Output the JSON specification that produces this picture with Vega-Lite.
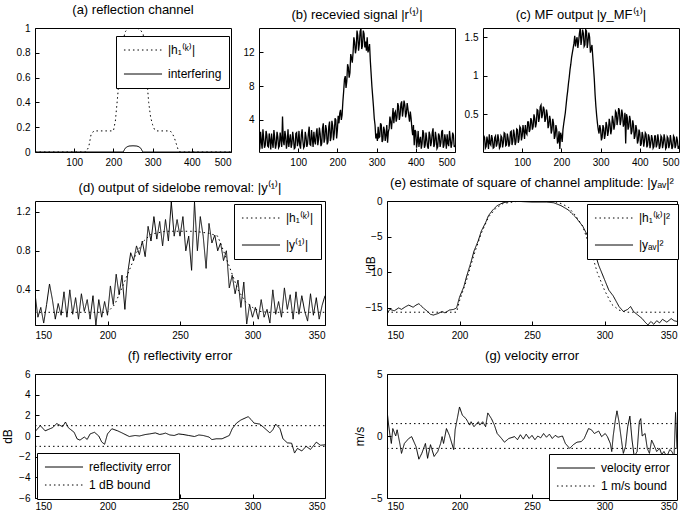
{
"$schema":"https://vega.github.io/schema/vega-lite/v6.json",
"background":"white",
"padding":{"left":1,"top":3,"right":5,"bottom":0},
"spacing":8,
"resolve":{"scale":{"strokeDash":"independent"},"legend":{"strokeDash":"independent"}},
"config":{
 "font":"Liberation Sans",
 "view":{"stroke":"black","strokeWidth":1},
 "axis":{"grid":false,"domain":false,"tickColor":"black","tickSize":-4,"labelPadding":9,"labelFontSize":10,"labelColor":"black","labelFont":"Liberation Sans","titleFont":"Liberation Sans","titleFontSize":12,"titleFontWeight":"normal","titleColor":"black","format":"~f"},
 "title":{"font":"Liberation Sans","fontSize":13,"fontWeight":"normal","color":"black","offset":6},
 "legend":{"orient":"none","strokeColor":"black","fillColor":"white","padding":7,"symbolType":"stroke","symbolSize":1450,"symbolStrokeColor":"black","symbolStrokeWidth":1,"labelFont":"Liberation Sans","labelFontSize":12,"labelColor":"black","clipHeight":14,"labelOffset":5,"cornerRadius":0},
 "line":{"color":"black","strokeWidth":1}
},
"datasets":{
 "a":[
  {"x":0,"y":0,"s":"|h₁⁽ᵏ⁾|"},{"x":130,"y":0,"s":"|h₁⁽ᵏ⁾|"},{"x":137,"y":0.04,"s":"|h₁⁽ᵏ⁾|"},{"x":143,"y":0.14,"s":"|h₁⁽ᵏ⁾|"},{"x":150,"y":0.17,"s":"|h₁⁽ᵏ⁾|"},{"x":200,"y":0.17,"s":"|h₁⁽ᵏ⁾|"},{"x":205,"y":0.25,"s":"|h₁⁽ᵏ⁾|"},{"x":210,"y":0.42,"s":"|h₁⁽ᵏ⁾|"},{"x":215,"y":0.6,"s":"|h₁⁽ᵏ⁾|"},{"x":220,"y":0.78,"s":"|h₁⁽ᵏ⁾|"},{"x":225,"y":0.9,"s":"|h₁⁽ᵏ⁾|"},{"x":230,"y":0.97,"s":"|h₁⁽ᵏ⁾|"},{"x":240,"y":1.0,"s":"|h₁⁽ᵏ⁾|"},{"x":260,"y":1.0,"s":"|h₁⁽ᵏ⁾|"},{"x":270,"y":0.98,"s":"|h₁⁽ᵏ⁾|"},{"x":276,"y":0.95,"s":"|h₁⁽ᵏ⁾|"},{"x":280,"y":0.8,"s":"|h₁⁽ᵏ⁾|"},{"x":285,"y":0.6,"s":"|h₁⁽ᵏ⁾|"},{"x":290,"y":0.4,"s":"|h₁⁽ᵏ⁾|"},{"x":295,"y":0.28,"s":"|h₁⁽ᵏ⁾|"},{"x":300,"y":0.22,"s":"|h₁⁽ᵏ⁾|"},{"x":305,"y":0.18,"s":"|h₁⁽ᵏ⁾|"},{"x":310,"y":0.17,"s":"|h₁⁽ᵏ⁾|"},{"x":345,"y":0.17,"s":"|h₁⁽ᵏ⁾|"},{"x":350,"y":0.15,"s":"|h₁⁽ᵏ⁾|"},{"x":355,"y":0.12,"s":"|h₁⁽ᵏ⁾|"},{"x":360,"y":0.07,"s":"|h₁⁽ᵏ⁾|"},{"x":365,"y":0.02,"s":"|h₁⁽ᵏ⁾|"},{"x":370,"y":0,"s":"|h₁⁽ᵏ⁾|"},{"x":500,"y":0,"s":"|h₁⁽ᵏ⁾|"},
  {"x":0,"y":0,"s":"interfering"},{"x":225,"y":0,"s":"interfering"},{"x":230,"y":0.03,"s":"interfering"},{"x":235,"y":0.042,"s":"interfering"},{"x":240,"y":0.048,"s":"interfering"},{"x":250,"y":0.05,"s":"interfering"},{"x":260,"y":0.048,"s":"interfering"},{"x":265,"y":0.042,"s":"interfering"},{"x":270,"y":0.03,"s":"interfering"},{"x":275,"y":0,"s":"interfering"},{"x":500,"y":0,"s":"interfering"}
 ],
 "b":[
  {"x":0,"y":1.2},{"x":2,"y":0.5},{"x":4,"y":2.6},{"x":6,"y":1.4},{"x":8,"y":0.6},{"x":10,"y":2.9},{"x":12,"y":1.8},{"x":14,"y":0.7},{"x":16,"y":1.0},{"x":18,"y":2.7},{"x":20,"y":2.2},{"x":22,"y":0.9},{"x":24,"y":0.8},{"x":26,"y":2.4},{"x":28,"y":1.6},{"x":30,"y":0.5},{"x":32,"y":2.4},{"x":34,"y":1.3},{"x":36,"y":0.7},{"x":38,"y":2.8},{"x":40,"y":1.9},{"x":42,"y":0.6},{"x":44,"y":1.1},{"x":46,"y":2.6},{"x":48,"y":2.0},{"x":50,"y":0.7},{"x":52,"y":0.9},{"x":54,"y":2.5},{"x":56,"y":1.7},{"x":58,"y":0.8},{"x":60,"y":4.4},{"x":62,"y":1.5},{"x":64,"y":1.0},{"x":66,"y":2.7},{"x":68,"y":2.1},{"x":70,"y":0.6},{"x":72,"y":1.3},{"x":74,"y":2.9},{"x":76,"y":0.8},{"x":78,"y":1.6},{"x":80,"y":2.3},{"x":82,"y":0.7},{"x":84,"y":1.2},{"x":86,"y":2.6},{"x":88,"y":1.8},{"x":90,"y":0.6},{"x":92,"y":0.7},{"x":94,"y":2.4},{"x":96,"y":2.5},{"x":98,"y":0.9},{"x":100,"y":1.4},{"x":102,"y":2.7},{"x":104,"y":1.0},{"x":106,"y":0.6},{"x":108,"y":2.2},{"x":110,"y":2.9},{"x":112,"y":1.5},{"x":114,"y":0.7},{"x":116,"y":0.9},{"x":118,"y":2.6},{"x":120,"y":2.0},{"x":122,"y":0.8},{"x":124,"y":1.2},{"x":126,"y":2.4},{"x":128,"y":3.2},{"x":130,"y":1.1},{"x":132,"y":1.0},{"x":134,"y":2.8},{"x":136,"y":1.8},{"x":138,"y":0.8},{"x":140,"y":2.6},{"x":142,"y":1.5},{"x":144,"y":1.1},{"x":146,"y":2.4},{"x":148,"y":3.0},{"x":150,"y":1.0},{"x":152,"y":1.7},{"x":154,"y":3.1},{"x":156,"y":2.4},{"x":158,"y":0.9},{"x":160,"y":1.2},{"x":162,"y":3.0},{"x":164,"y":3.6},{"x":166,"y":1.3},{"x":168,"y":1.8},{"x":170,"y":3.4},{"x":172,"y":2.9},{"x":174,"y":1.1},{"x":176,"y":1.4},{"x":178,"y":3.2},{"x":180,"y":3.8},{"x":182,"y":1.5},{"x":184,"y":2.0},{"x":186,"y":3.9},{"x":188,"y":3.3},{"x":190,"y":1.6},{"x":192,"y":2.4},{"x":194,"y":4.2},{"x":196,"y":4.0},{"x":198,"y":1.8},{"x":200,"y":2.8},{"x":202,"y":4.5},{"x":204,"y":3.6},{"x":206,"y":4.8},{"x":208,"y":5.2},{"x":210,"y":4.0},{"x":212,"y":4.6},{"x":214,"y":6.2},{"x":216,"y":7.4},{"x":218,"y":8.8},{"x":220,"y":9.2},{"x":222,"y":7.8},{"x":224,"y":8.6},{"x":226,"y":10.6},{"x":228,"y":10.2},{"x":230,"y":9.0},{"x":232,"y":9.6},{"x":234,"y":11.8},{"x":236,"y":11.4},{"x":238,"y":10.8},{"x":240,"y":12.0},{"x":242,"y":13.8},{"x":244,"y":13.2},{"x":246,"y":11.9},{"x":248,"y":12.5},{"x":250,"y":14.6},{"x":252,"y":14.0},{"x":254,"y":12.2},{"x":256,"y":13.0},{"x":258,"y":14.5},{"x":260,"y":14.8},{"x":262,"y":12.4},{"x":264,"y":12.8},{"x":266,"y":14.6},{"x":268,"y":14.2},{"x":270,"y":12.6},{"x":272,"y":13.3},{"x":274,"y":12.2},{"x":276,"y":13.8},{"x":278,"y":12.0},{"x":280,"y":12.4},{"x":282,"y":13.0},{"x":284,"y":11.0},{"x":286,"y":9.5},{"x":288,"y":8.0},{"x":290,"y":6.8},{"x":292,"y":5.6},{"x":294,"y":4.2},{"x":296,"y":3.4},{"x":298,"y":1.8},{"x":300,"y":2.4},{"x":302,"y":1.5},{"x":304,"y":3.2},{"x":306,"y":1.9},{"x":308,"y":2.0},{"x":310,"y":3.6},{"x":312,"y":3.4},{"x":314,"y":1.4},{"x":316,"y":1.6},{"x":318,"y":3.2},{"x":320,"y":2.8},{"x":322,"y":1.5},{"x":324,"y":2.2},{"x":326,"y":3.4},{"x":328,"y":1.3},{"x":330,"y":2.6},{"x":332,"y":3.0},{"x":334,"y":4.4},{"x":336,"y":3.8},{"x":338,"y":2.9},{"x":340,"y":4.2},{"x":342,"y":5.4},{"x":344,"y":3.6},{"x":346,"y":4.8},{"x":348,"y":5.0},{"x":350,"y":3.8},{"x":352,"y":4.3},{"x":354,"y":6.0},{"x":356,"y":5.6},{"x":358,"y":4.0},{"x":360,"y":4.6},{"x":362,"y":5.9},{"x":364,"y":6.2},{"x":366,"y":4.4},{"x":368,"y":5.2},{"x":370,"y":6.3},{"x":372,"y":5.8},{"x":374,"y":4.3},{"x":376,"y":4.8},{"x":378,"y":6.0},{"x":380,"y":5.3},{"x":382,"y":4.5},{"x":384,"y":3.8},{"x":386,"y":5.0},{"x":388,"y":4.2},{"x":390,"y":3.0},{"x":392,"y":2.2},{"x":394,"y":3.4},{"x":396,"y":1.0},{"x":398,"y":2.8},{"x":400,"y":2.6},{"x":402,"y":0.7},{"x":404,"y":1.4},{"x":406,"y":2.7},{"x":408,"y":0.8},{"x":410,"y":1.6},{"x":412,"y":2.0},{"x":414,"y":0.6},{"x":416,"y":1.2},{"x":418,"y":2.8},{"x":420,"y":2.4},{"x":422,"y":0.7},{"x":424,"y":1.0},{"x":426,"y":2.5},{"x":428,"y":1.7},{"x":430,"y":0.8},{"x":432,"y":0.6},{"x":434,"y":2.6},{"x":436,"y":2.2},{"x":438,"y":0.9},{"x":440,"y":1.4},{"x":442,"y":2.5},{"x":444,"y":3.0},{"x":446,"y":0.8},{"x":448,"y":1.1},{"x":450,"y":2.6},{"x":452,"y":1.9},{"x":454,"y":0.6},{"x":456,"y":0.8},{"x":458,"y":2.4},{"x":460,"y":2.1},{"x":462,"y":0.8},{"x":464,"y":1.3},{"x":466,"y":2.6},{"x":468,"y":2.8},{"x":470,"y":0.7},{"x":472,"y":1.0},{"x":474,"y":2.3},{"x":476,"y":1.6},{"x":478,"y":0.6},{"x":480,"y":2.3},{"x":482,"y":1.2},{"x":484,"y":0.9},{"x":486,"y":2.7},{"x":488,"y":1.8},{"x":490,"y":0.7},{"x":492,"y":1.2},{"x":494,"y":2.5},{"x":496,"y":2.2},{"x":498,"y":0.8},{"x":500,"y":1.0}
 ],
 "c":[
  {"x":0,"y":0.10},{"x":2,"y":0.22},{"x":4,"y":0.20},{"x":6,"y":0.06},{"x":8,"y":0.08},{"x":10,"y":0.21},{"x":12,"y":0.15},{"x":14,"y":0.05},{"x":16,"y":0.24},{"x":18,"y":0.12},{"x":20,"y":0.10},{"x":22,"y":0.23},{"x":24,"y":0.18},{"x":26,"y":0.06},{"x":28,"y":0.07},{"x":30,"y":0.20},{"x":32,"y":0.22},{"x":34,"y":0.08},{"x":36,"y":0.12},{"x":38,"y":0.24},{"x":40,"y":0.17},{"x":42,"y":0.06},{"x":44,"y":0.08},{"x":46,"y":0.22},{"x":48,"y":0.20},{"x":50,"y":0.07},{"x":52,"y":0.13},{"x":54,"y":0.26},{"x":56,"y":0.25},{"x":58,"y":0.09},{"x":60,"y":0.10},{"x":62,"y":0.25},{"x":64,"y":0.19},{"x":66,"y":0.08},{"x":68,"y":0.12},{"x":70,"y":0.27},{"x":72,"y":0.28},{"x":74,"y":0.10},{"x":76,"y":0.15},{"x":78,"y":0.30},{"x":80,"y":0.24},{"x":82,"y":0.10},{"x":84,"y":0.14},{"x":86,"y":0.31},{"x":88,"y":0.30},{"x":90,"y":0.13},{"x":92,"y":0.18},{"x":94,"y":0.34},{"x":96,"y":0.32},{"x":98,"y":0.16},{"x":100,"y":0.22},{"x":102,"y":0.36},{"x":104,"y":0.28},{"x":106,"y":0.18},{"x":108,"y":0.36},{"x":110,"y":0.26},{"x":112,"y":0.24},{"x":114,"y":0.40},{"x":116,"y":0.40},{"x":118,"y":0.27},{"x":120,"y":0.30},{"x":122,"y":0.45},{"x":124,"y":0.42},{"x":126,"y":0.30},{"x":128,"y":0.34},{"x":130,"y":0.50},{"x":132,"y":0.45},{"x":134,"y":0.33},{"x":136,"y":0.38},{"x":138,"y":0.56},{"x":140,"y":0.55},{"x":142,"y":0.40},{"x":144,"y":0.46},{"x":146,"y":0.60},{"x":148,"y":0.62},{"x":150,"y":0.45},{"x":152,"y":0.50},{"x":154,"y":0.60},{"x":156,"y":0.56},{"x":158,"y":0.40},{"x":160,"y":0.44},{"x":162,"y":0.56},{"x":164,"y":0.50},{"x":166,"y":0.32},{"x":168,"y":0.36},{"x":170,"y":0.48},{"x":172,"y":0.42},{"x":174,"y":0.25},{"x":176,"y":0.30},{"x":178,"y":0.44},{"x":180,"y":0.38},{"x":182,"y":0.18},{"x":184,"y":0.22},{"x":186,"y":0.36},{"x":188,"y":0.30},{"x":190,"y":0.12},{"x":192,"y":0.15},{"x":194,"y":0.28},{"x":196,"y":0.05},{"x":198,"y":0.26},{"x":200,"y":0.22},{"x":202,"y":0.14},{"x":204,"y":0.30},{"x":206,"y":0.38},{"x":208,"y":0.45},{"x":210,"y":0.52},{"x":212,"y":0.62},{"x":214,"y":0.72},{"x":216,"y":0.80},{"x":218,"y":0.90},{"x":220,"y":0.98},{"x":222,"y":1.08},{"x":224,"y":1.15},{"x":226,"y":1.24},{"x":228,"y":1.30},{"x":230,"y":1.36},{"x":232,"y":1.42},{"x":234,"y":1.52},{"x":236,"y":1.38},{"x":238,"y":1.46},{"x":240,"y":1.50},{"x":242,"y":1.36},{"x":244,"y":1.45},{"x":246,"y":1.55},{"x":248,"y":1.62},{"x":250,"y":1.40},{"x":252,"y":1.48},{"x":254,"y":1.60},{"x":256,"y":1.55},{"x":258,"y":1.38},{"x":260,"y":1.40},{"x":262,"y":1.60},{"x":264,"y":1.58},{"x":266,"y":1.36},{"x":268,"y":1.45},{"x":270,"y":1.56},{"x":272,"y":1.50},{"x":274,"y":1.30},{"x":276,"y":1.35},{"x":278,"y":1.40},{"x":280,"y":1.25},{"x":282,"y":1.10},{"x":284,"y":0.95},{"x":286,"y":0.75},{"x":288,"y":0.60},{"x":290,"y":0.48},{"x":292,"y":0.38},{"x":294,"y":0.30},{"x":296,"y":0.25},{"x":298,"y":0.36},{"x":300,"y":0.30},{"x":302,"y":0.16},{"x":304,"y":0.20},{"x":306,"y":0.36},{"x":308,"y":0.32},{"x":310,"y":0.18},{"x":312,"y":0.24},{"x":314,"y":0.40},{"x":316,"y":0.35},{"x":318,"y":0.22},{"x":320,"y":0.28},{"x":322,"y":0.44},{"x":324,"y":0.38},{"x":326,"y":0.24},{"x":328,"y":0.30},{"x":330,"y":0.48},{"x":332,"y":0.42},{"x":334,"y":0.30},{"x":336,"y":0.36},{"x":338,"y":0.54},{"x":340,"y":0.52},{"x":342,"y":0.36},{"x":344,"y":0.44},{"x":346,"y":0.58},{"x":348,"y":0.55},{"x":350,"y":0.36},{"x":352,"y":0.42},{"x":354,"y":0.56},{"x":356,"y":0.50},{"x":358,"y":0.34},{"x":360,"y":0.38},{"x":362,"y":0.52},{"x":364,"y":0.12},{"x":366,"y":0.50},{"x":368,"y":0.46},{"x":370,"y":0.30},{"x":372,"y":0.34},{"x":374,"y":0.48},{"x":376,"y":0.42},{"x":378,"y":0.24},{"x":380,"y":0.28},{"x":382,"y":0.42},{"x":384,"y":0.36},{"x":386,"y":0.18},{"x":388,"y":0.22},{"x":390,"y":0.36},{"x":392,"y":0.30},{"x":394,"y":0.12},{"x":396,"y":0.16},{"x":398,"y":0.30},{"x":400,"y":0.26},{"x":402,"y":0.09},{"x":404,"y":0.12},{"x":406,"y":0.27},{"x":408,"y":0.22},{"x":410,"y":0.08},{"x":412,"y":0.15},{"x":414,"y":0.26},{"x":416,"y":0.24},{"x":418,"y":0.07},{"x":420,"y":0.10},{"x":422,"y":0.24},{"x":424,"y":0.20},{"x":426,"y":0.06},{"x":428,"y":0.12},{"x":430,"y":0.23},{"x":432,"y":0.18},{"x":434,"y":0.06},{"x":436,"y":0.08},{"x":438,"y":0.22},{"x":440,"y":0.22},{"x":442,"y":0.07},{"x":444,"y":0.11},{"x":446,"y":0.24},{"x":448,"y":0.16},{"x":450,"y":0.05},{"x":452,"y":0.09},{"x":454,"y":0.22},{"x":456,"y":0.20},{"x":458,"y":0.06},{"x":460,"y":0.12},{"x":462,"y":0.24},{"x":464,"y":0.17},{"x":466,"y":0.05},{"x":468,"y":0.07},{"x":470,"y":0.21},{"x":472,"y":0.19},{"x":474,"y":0.06},{"x":476,"y":0.11},{"x":478,"y":0.23},{"x":480,"y":0.15},{"x":482,"y":0.05},{"x":484,"y":0.08},{"x":486,"y":0.22},{"x":488,"y":0.20},{"x":490,"y":0.06},{"x":492,"y":0.10},{"x":494,"y":0.21},{"x":496,"y":0.16},{"x":498,"y":0.05},{"x":500,"y":0.09}
 ],
 "d":[
  {"x":150,"y":0.17,"s":"|h₁⁽ᵏ⁾|"},{"x":200,"y":0.17,"s":"|h₁⁽ᵏ⁾|"},{"x":205,"y":0.25,"s":"|h₁⁽ᵏ⁾|"},{"x":210,"y":0.42,"s":"|h₁⁽ᵏ⁾|"},{"x":215,"y":0.6,"s":"|h₁⁽ᵏ⁾|"},{"x":220,"y":0.78,"s":"|h₁⁽ᵏ⁾|"},{"x":225,"y":0.9,"s":"|h₁⁽ᵏ⁾|"},{"x":230,"y":0.97,"s":"|h₁⁽ᵏ⁾|"},{"x":240,"y":1.0,"s":"|h₁⁽ᵏ⁾|"},{"x":260,"y":1.0,"s":"|h₁⁽ᵏ⁾|"},{"x":270,"y":0.98,"s":"|h₁⁽ᵏ⁾|"},{"x":276,"y":0.95,"s":"|h₁⁽ᵏ⁾|"},{"x":280,"y":0.8,"s":"|h₁⁽ᵏ⁾|"},{"x":285,"y":0.6,"s":"|h₁⁽ᵏ⁾|"},{"x":290,"y":0.4,"s":"|h₁⁽ᵏ⁾|"},{"x":295,"y":0.28,"s":"|h₁⁽ᵏ⁾|"},{"x":300,"y":0.22,"s":"|h₁⁽ᵏ⁾|"},{"x":305,"y":0.18,"s":"|h₁⁽ᵏ⁾|"},{"x":310,"y":0.17,"s":"|h₁⁽ᵏ⁾|"},{"x":350,"y":0.17,"s":"|h₁⁽ᵏ⁾|"},
  {"x":150,"y":0.36,"s":"|y⁽¹⁾|"},{"x":152,"y":0.12,"s":"|y⁽¹⁾|"},{"x":154,"y":0.22,"s":"|y⁽¹⁾|"},{"x":156,"y":0.06,"s":"|y⁽¹⁾|"},{"x":158,"y":0.25,"s":"|y⁽¹⁾|"},{"x":160,"y":0.46,"s":"|y⁽¹⁾|"},{"x":162,"y":0.30,"s":"|y⁽¹⁾|"},{"x":164,"y":0.10,"s":"|y⁽¹⁾|"},{"x":166,"y":0.26,"s":"|y⁽¹⁾|"},{"x":168,"y":0.14,"s":"|y⁽¹⁾|"},{"x":170,"y":0.38,"s":"|y⁽¹⁾|"},{"x":172,"y":0.12,"s":"|y⁽¹⁾|"},{"x":174,"y":0.40,"s":"|y⁽¹⁾|"},{"x":176,"y":0.15,"s":"|y⁽¹⁾|"},{"x":178,"y":0.32,"s":"|y⁽¹⁾|"},{"x":180,"y":0.10,"s":"|y⁽¹⁾|"},{"x":182,"y":0.36,"s":"|y⁽¹⁾|"},{"x":184,"y":0.18,"s":"|y⁽¹⁾|"},{"x":186,"y":0.30,"s":"|y⁽¹⁾|"},{"x":188,"y":0.10,"s":"|y⁽¹⁾|"},{"x":190,"y":0.34,"s":"|y⁽¹⁾|"},{"x":192,"y":0.04,"s":"|y⁽¹⁾|"},{"x":194,"y":0.30,"s":"|y⁽¹⁾|"},{"x":196,"y":0.12,"s":"|y⁽¹⁾|"},{"x":198,"y":0.28,"s":"|y⁽¹⁾|"},{"x":200,"y":0.14,"s":"|y⁽¹⁾|"},{"x":202,"y":0.44,"s":"|y⁽¹⁾|"},{"x":204,"y":0.25,"s":"|y⁽¹⁾|"},{"x":206,"y":0.56,"s":"|y⁽¹⁾|"},{"x":208,"y":0.35,"s":"|y⁽¹⁾|"},{"x":210,"y":0.55,"s":"|y⁽¹⁾|"},{"x":212,"y":0.20,"s":"|y⁽¹⁾|"},{"x":214,"y":0.58,"s":"|y⁽¹⁾|"},{"x":216,"y":0.78,"s":"|y⁽¹⁾|"},{"x":218,"y":0.70,"s":"|y⁽¹⁾|"},{"x":220,"y":0.85,"s":"|y⁽¹⁾|"},{"x":222,"y":0.76,"s":"|y⁽¹⁾|"},{"x":224,"y":0.90,"s":"|y⁽¹⁾|"},{"x":226,"y":0.74,"s":"|y⁽¹⁾|"},{"x":228,"y":1.05,"s":"|y⁽¹⁾|"},{"x":230,"y":0.90,"s":"|y⁽¹⁾|"},{"x":232,"y":1.15,"s":"|y⁽¹⁾|"},{"x":234,"y":0.92,"s":"|y⁽¹⁾|"},{"x":236,"y":1.10,"s":"|y⁽¹⁾|"},{"x":238,"y":0.85,"s":"|y⁽¹⁾|"},{"x":240,"y":1.12,"s":"|y⁽¹⁾|"},{"x":242,"y":0.90,"s":"|y⁽¹⁾|"},{"x":244,"y":1.30,"s":"|y⁽¹⁾|"},{"x":246,"y":0.95,"s":"|y⁽¹⁾|"},{"x":248,"y":1.12,"s":"|y⁽¹⁾|"},{"x":250,"y":0.95,"s":"|y⁽¹⁾|"},{"x":252,"y":1.15,"s":"|y⁽¹⁾|"},{"x":254,"y":0.80,"s":"|y⁽¹⁾|"},{"x":256,"y":0.95,"s":"|y⁽¹⁾|"},{"x":258,"y":0.60,"s":"|y⁽¹⁾|"},{"x":260,"y":1.30,"s":"|y⁽¹⁾|"},{"x":262,"y":0.80,"s":"|y⁽¹⁾|"},{"x":264,"y":1.15,"s":"|y⁽¹⁾|"},{"x":266,"y":0.95,"s":"|y⁽¹⁾|"},{"x":268,"y":0.62,"s":"|y⁽¹⁾|"},{"x":270,"y":1.08,"s":"|y⁽¹⁾|"},{"x":272,"y":0.88,"s":"|y⁽¹⁾|"},{"x":274,"y":0.96,"s":"|y⁽¹⁾|"},{"x":276,"y":0.80,"s":"|y⁽¹⁾|"},{"x":278,"y":0.88,"s":"|y⁽¹⁾|"},{"x":280,"y":0.70,"s":"|y⁽¹⁾|"},{"x":282,"y":0.80,"s":"|y⁽¹⁾|"},{"x":284,"y":0.42,"s":"|y⁽¹⁾|"},{"x":286,"y":0.55,"s":"|y⁽¹⁾|"},{"x":288,"y":0.36,"s":"|y⁽¹⁾|"},{"x":290,"y":0.50,"s":"|y⁽¹⁾|"},{"x":292,"y":0.22,"s":"|y⁽¹⁾|"},{"x":294,"y":0.48,"s":"|y⁽¹⁾|"},{"x":296,"y":0.05,"s":"|y⁽¹⁾|"},{"x":298,"y":0.25,"s":"|y⁽¹⁾|"},{"x":300,"y":0.12,"s":"|y⁽¹⁾|"},{"x":302,"y":0.22,"s":"|y⁽¹⁾|"},{"x":304,"y":0.10,"s":"|y⁽¹⁾|"},{"x":306,"y":0.30,"s":"|y⁽¹⁾|"},{"x":308,"y":0.12,"s":"|y⁽¹⁾|"},{"x":310,"y":0.20,"s":"|y⁽¹⁾|"},{"x":312,"y":0.06,"s":"|y⁽¹⁾|"},{"x":314,"y":0.40,"s":"|y⁽¹⁾|"},{"x":316,"y":0.15,"s":"|y⁽¹⁾|"},{"x":318,"y":0.28,"s":"|y⁽¹⁾|"},{"x":320,"y":0.12,"s":"|y⁽¹⁾|"},{"x":322,"y":0.42,"s":"|y⁽¹⁾|"},{"x":324,"y":0.20,"s":"|y⁽¹⁾|"},{"x":326,"y":0.35,"s":"|y⁽¹⁾|"},{"x":328,"y":0.10,"s":"|y⁽¹⁾|"},{"x":330,"y":0.38,"s":"|y⁽¹⁾|"},{"x":332,"y":0.15,"s":"|y⁽¹⁾|"},{"x":334,"y":0.34,"s":"|y⁽¹⁾|"},{"x":336,"y":0.18,"s":"|y⁽¹⁾|"},{"x":338,"y":0.08,"s":"|y⁽¹⁾|"},{"x":340,"y":0.36,"s":"|y⁽¹⁾|"},{"x":342,"y":0.14,"s":"|y⁽¹⁾|"},{"x":344,"y":0.32,"s":"|y⁽¹⁾|"},{"x":346,"y":0.10,"s":"|y⁽¹⁾|"},{"x":348,"y":0.24,"s":"|y⁽¹⁾|"},{"x":350,"y":0.34,"s":"|y⁽¹⁾|"}
 ],
 "e":[
  {"x":150,"y":-15.6,"s":"|h₁⁽ᵏ⁾|²"},{"x":198,"y":-15.6,"s":"|h₁⁽ᵏ⁾|²"},{"x":200,"y":-14,"s":"|h₁⁽ᵏ⁾|²"},{"x":205,"y":-11,"s":"|h₁⁽ᵏ⁾|²"},{"x":210,"y":-7.5,"s":"|h₁⁽ᵏ⁾|²"},{"x":215,"y":-4.5,"s":"|h₁⁽ᵏ⁾|²"},{"x":220,"y":-2.2,"s":"|h₁⁽ᵏ⁾|²"},{"x":225,"y":-1.0,"s":"|h₁⁽ᵏ⁾|²"},{"x":230,"y":-0.3,"s":"|h₁⁽ᵏ⁾|²"},{"x":240,"y":0,"s":"|h₁⁽ᵏ⁾|²"},{"x":265,"y":0,"s":"|h₁⁽ᵏ⁾|²"},{"x":270,"y":-0.3,"s":"|h₁⁽ᵏ⁾|²"},{"x":275,"y":-0.8,"s":"|h₁⁽ᵏ⁾|²"},{"x":280,"y":-2,"s":"|h₁⁽ᵏ⁾|²"},{"x":285,"y":-3.5,"s":"|h₁⁽ᵏ⁾|²"},{"x":290,"y":-6.5,"s":"|h₁⁽ᵏ⁾|²"},{"x":295,"y":-10,"s":"|h₁⁽ᵏ⁾|²"},{"x":300,"y":-12.5,"s":"|h₁⁽ᵏ⁾|²"},{"x":305,"y":-14.5,"s":"|h₁⁽ᵏ⁾|²"},{"x":310,"y":-15.3,"s":"|h₁⁽ᵏ⁾|²"},{"x":315,"y":-15.6,"s":"|h₁⁽ᵏ⁾|²"},{"x":350,"y":-15.6,"s":"|h₁⁽ᵏ⁾|²"},
  {"x":150,"y":-15.8,"s":"|yₐᵥ|²"},{"x":152,"y":-15.2,"s":"|yₐᵥ|²"},{"x":155,"y":-15.4,"s":"|yₐᵥ|²"},{"x":158,"y":-15.0,"s":"|yₐᵥ|²"},{"x":160,"y":-15.2,"s":"|yₐᵥ|²"},{"x":163,"y":-14.8,"s":"|yₐᵥ|²"},{"x":165,"y":-14.6,"s":"|yₐᵥ|²"},{"x":168,"y":-14.9,"s":"|yₐᵥ|²"},{"x":170,"y":-14.6,"s":"|yₐᵥ|²"},{"x":172,"y":-14.4,"s":"|yₐᵥ|²"},{"x":175,"y":-15.0,"s":"|yₐᵥ|²"},{"x":178,"y":-15.5,"s":"|yₐᵥ|²"},{"x":180,"y":-15.9,"s":"|yₐᵥ|²"},{"x":182,"y":-16.0,"s":"|yₐᵥ|²"},{"x":185,"y":-15.8,"s":"|yₐᵥ|²"},{"x":188,"y":-15.5,"s":"|yₐᵥ|²"},{"x":190,"y":-15.7,"s":"|yₐᵥ|²"},{"x":193,"y":-15.3,"s":"|yₐᵥ|²"},{"x":196,"y":-15.2,"s":"|yₐᵥ|²"},{"x":198,"y":-15.0,"s":"|yₐᵥ|²"},{"x":200,"y":-13.5,"s":"|yₐᵥ|²"},{"x":203,"y":-12,"s":"|yₐᵥ|²"},{"x":205,"y":-10.5,"s":"|yₐᵥ|²"},{"x":208,"y":-8.5,"s":"|yₐᵥ|²"},{"x":210,"y":-7,"s":"|yₐᵥ|²"},{"x":213,"y":-5.5,"s":"|yₐᵥ|²"},{"x":215,"y":-4.2,"s":"|yₐᵥ|²"},{"x":218,"y":-3,"s":"|yₐᵥ|²"},{"x":220,"y":-2,"s":"|yₐᵥ|²"},{"x":223,"y":-1.2,"s":"|yₐᵥ|²"},{"x":226,"y":-0.6,"s":"|yₐᵥ|²"},{"x":230,"y":-0.2,"s":"|yₐᵥ|²"},{"x":235,"y":0,"s":"|yₐᵥ|²"},{"x":240,"y":0,"s":"|yₐᵥ|²"},{"x":250,"y":-0.1,"s":"|yₐᵥ|²"},{"x":260,"y":-0.1,"s":"|yₐᵥ|²"},{"x":265,"y":-0.2,"s":"|yₐᵥ|²"},{"x":270,"y":-0.6,"s":"|yₐᵥ|²"},{"x":275,"y":-1.2,"s":"|yₐᵥ|²"},{"x":280,"y":-2.2,"s":"|yₐᵥ|²"},{"x":285,"y":-3.5,"s":"|yₐᵥ|²"},{"x":290,"y":-5.5,"s":"|yₐᵥ|²"},{"x":293,"y":-7,"s":"|yₐᵥ|²"},{"x":296,"y":-9,"s":"|yₐᵥ|²"},{"x":300,"y":-11,"s":"|yₐᵥ|²"},{"x":303,"y":-12.5,"s":"|yₐᵥ|²"},{"x":306,"y":-13.3,"s":"|yₐᵥ|²"},{"x":310,"y":-14.8,"s":"|yₐᵥ|²"},{"x":313,"y":-15.5,"s":"|yₐᵥ|²"},{"x":316,"y":-15.2,"s":"|yₐᵥ|²"},{"x":318,"y":-14.8,"s":"|yₐᵥ|²"},{"x":320,"y":-15.5,"s":"|yₐᵥ|²"},{"x":323,"y":-16,"s":"|yₐᵥ|²"},{"x":326,"y":-16.5,"s":"|yₐᵥ|²"},{"x":328,"y":-17.0,"s":"|yₐᵥ|²"},{"x":330,"y":-17.4,"s":"|yₐᵥ|²"},{"x":332,"y":-16.9,"s":"|yₐᵥ|²"},{"x":334,"y":-17.3,"s":"|yₐᵥ|²"},{"x":336,"y":-16.8,"s":"|yₐᵥ|²"},{"x":338,"y":-17.1,"s":"|yₐᵥ|²"},{"x":340,"y":-16.6,"s":"|yₐᵥ|²"},{"x":343,"y":-17.0,"s":"|yₐᵥ|²"},{"x":346,"y":-16.5,"s":"|yₐᵥ|²"},{"x":348,"y":-16.8,"s":"|yₐᵥ|²"},{"x":350,"y":-16.9,"s":"|yₐᵥ|²"}
 ],
 "f":[
  {"x":150,"y":1,"s":"1 dB bound","g":"u"},{"x":350,"y":1,"s":"1 dB bound","g":"u"},{"x":150,"y":-1,"s":"1 dB bound","g":"l"},{"x":350,"y":-1,"s":"1 dB bound","g":"l"},
  {"x":150,"y":0.42,"s":"reflectivity error"},{"x":153.7,"y":1.0,"s":"reflectivity error"},{"x":157,"y":0.5,"s":"reflectivity error"},{"x":162,"y":0.8,"s":"reflectivity error"},{"x":165,"y":1.2,"s":"reflectivity error"},{"x":169,"y":0.9,"s":"reflectivity error"},{"x":171,"y":1.35,"s":"reflectivity error"},{"x":173,"y":0.8,"s":"reflectivity error"},{"x":177,"y":0.36,"s":"reflectivity error"},{"x":179,"y":-0.27,"s":"reflectivity error"},{"x":181,"y":-0.4,"s":"reflectivity error"},{"x":184,"y":-0.1,"s":"reflectivity error"},{"x":186,"y":-0.33,"s":"reflectivity error"},{"x":188,"y":0.2,"s":"reflectivity error"},{"x":191,"y":0.36,"s":"reflectivity error"},{"x":194,"y":0,"s":"reflectivity error"},{"x":196,"y":-0.58,"s":"reflectivity error"},{"x":198,"y":-0.8,"s":"reflectivity error"},{"x":200,"y":0.2,"s":"reflectivity error"},{"x":203,"y":0.7,"s":"reflectivity error"},{"x":207,"y":0.5,"s":"reflectivity error"},{"x":210,"y":0.3,"s":"reflectivity error"},{"x":215,"y":-0.05,"s":"reflectivity error"},{"x":219,"y":0.05,"s":"reflectivity error"},{"x":222,"y":0.0,"s":"reflectivity error"},{"x":226,"y":0.14,"s":"reflectivity error"},{"x":229,"y":0.2,"s":"reflectivity error"},{"x":233,"y":0.3,"s":"reflectivity error"},{"x":236,"y":0.15,"s":"reflectivity error"},{"x":238,"y":0.2,"s":"reflectivity error"},{"x":240,"y":0.28,"s":"reflectivity error"},{"x":243,"y":0.1,"s":"reflectivity error"},{"x":246,"y":0.05,"s":"reflectivity error"},{"x":249,"y":0.2,"s":"reflectivity error"},{"x":252,"y":0.15,"s":"reflectivity error"},{"x":256,"y":0.05,"s":"reflectivity error"},{"x":260,"y":-0.05,"s":"reflectivity error"},{"x":263,"y":0.1,"s":"reflectivity error"},{"x":266,"y":0.05,"s":"reflectivity error"},{"x":270,"y":-0.1,"s":"reflectivity error"},{"x":272,"y":-0.35,"s":"reflectivity error"},{"x":275,"y":-0.27,"s":"reflectivity error"},{"x":279,"y":-0.27,"s":"reflectivity error"},{"x":284,"y":0.05,"s":"reflectivity error"},{"x":286,"y":0.7,"s":"reflectivity error"},{"x":289,"y":1.25,"s":"reflectivity error"},{"x":292,"y":1.55,"s":"reflectivity error"},{"x":297,"y":1.87,"s":"reflectivity error"},{"x":299,"y":1.6,"s":"reflectivity error"},{"x":301,"y":1.25,"s":"reflectivity error"},{"x":305,"y":1.15,"s":"reflectivity error"},{"x":308,"y":0.8,"s":"reflectivity error"},{"x":312,"y":0.3,"s":"reflectivity error"},{"x":314,"y":0.6,"s":"reflectivity error"},{"x":316,"y":1.15,"s":"reflectivity error"},{"x":319,"y":0.7,"s":"reflectivity error"},{"x":321,"y":-0.27,"s":"reflectivity error"},{"x":324,"y":-0.66,"s":"reflectivity error"},{"x":327,"y":-0.7,"s":"reflectivity error"},{"x":329,"y":-1.65,"s":"reflectivity error"},{"x":331,"y":-1.2,"s":"reflectivity error"},{"x":334,"y":-1.45,"s":"reflectivity error"},{"x":337,"y":-1.0,"s":"reflectivity error"},{"x":340,"y":-1.3,"s":"reflectivity error"},{"x":344,"y":-0.6,"s":"reflectivity error"},{"x":347,"y":-0.9,"s":"reflectivity error"},{"x":350,"y":-0.85,"s":"reflectivity error"}
 ],
 "g":[
  {"x":150,"y":1,"s":"1 m/s bound","g":"u"},{"x":350,"y":1,"s":"1 m/s bound","g":"u"},{"x":150,"y":-1,"s":"1 m/s bound","g":"l"},{"x":350,"y":-1,"s":"1 m/s bound","g":"l"},
  {"x":150,"y":2.1,"s":"velocity error"},{"x":151,"y":1.0,"s":"velocity error"},{"x":152,"y":0.1,"s":"velocity error"},{"x":153,"y":-0.6,"s":"velocity error"},{"x":154,"y":0.6,"s":"velocity error"},{"x":156,"y":0,"s":"velocity error"},{"x":157,"y":0.5,"s":"velocity error"},{"x":159,"y":-0.7,"s":"velocity error"},{"x":160,"y":-1.4,"s":"velocity error"},{"x":162,"y":-0.6,"s":"velocity error"},{"x":165,"y":-0.2,"s":"velocity error"},{"x":167,"y":-0.05,"s":"velocity error"},{"x":170,"y":-0.85,"s":"velocity error"},{"x":172,"y":-1.87,"s":"velocity error"},{"x":174,"y":-1.4,"s":"velocity error"},{"x":176.5,"y":-0.6,"s":"velocity error"},{"x":178,"y":-1.8,"s":"velocity error"},{"x":180,"y":-0.7,"s":"velocity error"},{"x":182.5,"y":-1.65,"s":"velocity error"},{"x":185,"y":-1.25,"s":"velocity error"},{"x":187,"y":-0.6,"s":"velocity error"},{"x":188,"y":-0.05,"s":"velocity error"},{"x":189,"y":-0.6,"s":"velocity error"},{"x":191,"y":0.6,"s":"velocity error"},{"x":193,"y":0.07,"s":"velocity error"},{"x":196,"y":-1.1,"s":"velocity error"},{"x":197,"y":0.5,"s":"velocity error"},{"x":200,"y":2.34,"s":"velocity error"},{"x":202,"y":1.67,"s":"velocity error"},{"x":204.5,"y":1.4,"s":"velocity error"},{"x":207,"y":0.88,"s":"velocity error"},{"x":208,"y":1.15,"s":"velocity error"},{"x":210,"y":0.75,"s":"velocity error"},{"x":213,"y":1.15,"s":"velocity error"},{"x":214,"y":0.88,"s":"velocity error"},{"x":216,"y":1.15,"s":"velocity error"},{"x":218,"y":0.75,"s":"velocity error"},{"x":219.5,"y":1.86,"s":"velocity error"},{"x":222,"y":1.4,"s":"velocity error"},{"x":224,"y":0.9,"s":"velocity error"},{"x":226,"y":0.2,"s":"velocity error"},{"x":229,"y":-0.2,"s":"velocity error"},{"x":231,"y":-0.5,"s":"velocity error"},{"x":234,"y":-0.2,"s":"velocity error"},{"x":238,"y":-0.05,"s":"velocity error"},{"x":240,"y":-0.3,"s":"velocity error"},{"x":242,"y":0.1,"s":"velocity error"},{"x":244,"y":-0.25,"s":"velocity error"},{"x":246,"y":0.15,"s":"velocity error"},{"x":248,"y":-0.2,"s":"velocity error"},{"x":250,"y":0.05,"s":"velocity error"},{"x":252,"y":-0.3,"s":"velocity error"},{"x":254,"y":0.0,"s":"velocity error"},{"x":256,"y":-0.15,"s":"velocity error"},{"x":258,"y":0.2,"s":"velocity error"},{"x":260,"y":-0.1,"s":"velocity error"},{"x":262,"y":0.15,"s":"velocity error"},{"x":264,"y":-0.2,"s":"velocity error"},{"x":266,"y":0.05,"s":"velocity error"},{"x":268,"y":-0.1,"s":"velocity error"},{"x":271,"y":0,"s":"velocity error"},{"x":273,"y":-0.6,"s":"velocity error"},{"x":276,"y":-1.0,"s":"velocity error"},{"x":278.5,"y":-0.7,"s":"velocity error"},{"x":281,"y":-0.5,"s":"velocity error"},{"x":284,"y":-0.45,"s":"velocity error"},{"x":286,"y":-0.2,"s":"velocity error"},{"x":289,"y":0.6,"s":"velocity error"},{"x":291,"y":0.5,"s":"velocity error"},{"x":293,"y":0.2,"s":"velocity error"},{"x":296,"y":0.4,"s":"velocity error"},{"x":298,"y":-0.05,"s":"velocity error"},{"x":300.5,"y":0.2,"s":"velocity error"},{"x":302,"y":-0.05,"s":"velocity error"},{"x":304,"y":-0.6,"s":"velocity error"},{"x":305,"y":-1.25,"s":"velocity error"},{"x":306,"y":0,"s":"velocity error"},{"x":307.5,"y":1.3,"s":"velocity error"},{"x":308.6,"y":2.03,"s":"velocity error"},{"x":310,"y":1.15,"s":"velocity error"},{"x":312,"y":-0.6,"s":"velocity error"},{"x":313,"y":-1.4,"s":"velocity error"},{"x":314.5,"y":-0.85,"s":"velocity error"},{"x":316,"y":0.75,"s":"velocity error"},{"x":317.5,"y":1.6,"s":"velocity error"},{"x":319,"y":-0.33,"s":"velocity error"},{"x":320.5,"y":-1.65,"s":"velocity error"},{"x":322.5,"y":-1.25,"s":"velocity error"},{"x":324,"y":1.15,"s":"velocity error"},{"x":325,"y":1.4,"s":"velocity error"},{"x":326,"y":0,"s":"velocity error"},{"x":328,"y":0.2,"s":"velocity error"},{"x":329.5,"y":-1.0,"s":"velocity error"},{"x":331,"y":-1.4,"s":"velocity error"},{"x":332.5,"y":-0.33,"s":"velocity error"},{"x":334,"y":-0.7,"s":"velocity error"},{"x":336,"y":-1.25,"s":"velocity error"},{"x":338,"y":-1.0,"s":"velocity error"},{"x":339.5,"y":-1.5,"s":"velocity error"},{"x":341,"y":-1.25,"s":"velocity error"},{"x":343,"y":-1.65,"s":"velocity error"},{"x":345,"y":-1.1,"s":"velocity error"},{"x":346.5,"y":-1.25,"s":"velocity error"},{"x":348,"y":-1.65,"s":"velocity error"},{"x":349,"y":1.9,"s":"velocity error"},{"x":350,"y":-1.0,"s":"velocity error"}
 ]
},
"vconcat":[
 {"hconcat":[
  {"width":196,"height":124,"data":{"name":"a"},"title":{"text":"(a) reflection channel"},
   "mark":{"type":"line","clip":true},
   "encoding":{
    "x":{"field":"x","type":"quantitative","scale":{"domain":[0,500],"nice":false},"axis":{"values":[100,200,300,400,500],"title":null}},
    "y":{"field":"y","type":"quantitative","scale":{"domain":[0,1],"nice":false},"axis":{"values":[0,0.2,0.4,0.6,0.8,1],"title":null}},
    "strokeDash":{"field":"s","type":"nominal","scale":{"domain":["|h₁⁽ᵏ⁾|","interfering"],"range":[[1.5,3],[1,0]]},"legend":{"title":null,"legendX":81,"legendY":8,"rowPadding":10}}
   }},
  {"width":196,"height":124,"data":{"name":"b"},"title":{"text":"(b) recevied signal |r⁽¹⁾|"},
   "mark":{"type":"line","clip":true,"strokeWidth":1.3},
   "encoding":{
    "x":{"field":"x","type":"quantitative","scale":{"domain":[0,500],"nice":false},"axis":{"values":[100,200,300,400,500],"title":null}},
    "y":{"field":"y","type":"quantitative","scale":{"domain":[0.2,14.9],"nice":false,"zero":false},"axis":{"values":[4,8,12],"title":null}}
   }},
  {"width":196,"height":124,"data":{"name":"c"},"title":{"text":"(c) MF output |y_MF⁽¹⁾|"},
   "mark":{"type":"line","clip":true,"strokeWidth":1.3},
   "encoding":{
    "x":{"field":"x","type":"quantitative","scale":{"domain":[0,500],"nice":false},"axis":{"values":[100,200,300,400,500],"title":null}},
    "y":{"field":"y","type":"quantitative","scale":{"domain":[0.01,1.62],"nice":false,"zero":false},"axis":{"values":[0.5,1,1.5],"title":null}}
   }}
 ],"spacing":28,"bounds":"flush","resolve":{"scale":{"strokeDash":"independent"},"legend":{"strokeDash":"independent"}}},
 {"hconcat":[
  {"width":290,"height":124,"data":{"name":"d"},"title":{"text":"(d) output of sidelobe removal: |y⁽¹⁾|"},
   "mark":{"type":"line","clip":true},
   "encoding":{
    "x":{"field":"x","type":"quantitative","scale":{"domain":[150,350],"nice":false,"zero":false},"axis":{"values":[150,200,250,300,350],"title":null}},
    "y":{"field":"y","type":"quantitative","scale":{"domain":[0.04,1.31],"nice":false,"zero":false},"axis":{"values":[0.4,0.8,1.2],"title":null}},
    "strokeDash":{"field":"s","type":"nominal","scale":{"domain":["|h₁⁽ᵏ⁾|","|y⁽¹⁾|"],"range":[[1.5,3],[1,0]]},"legend":{"title":null,"legendX":199,"legendY":3,"rowPadding":13}}
   }},
  {"width":290,"height":124,"data":{"name":"e"},"title":{"text":"(e) estimate of square of channel amplitude: |yₐᵥ|²"},
   "mark":{"type":"line","clip":true},
   "encoding":{
    "x":{"field":"x","type":"quantitative","scale":{"domain":[150,350],"nice":false,"zero":false},"axis":{"values":[150,200,250,300,350],"title":null}},
    "y":{"field":"y","type":"quantitative","scale":{"domain":[-17.4,0.05],"nice":false,"zero":false},"axis":{"values":[-15,-10,-5,0],"title":"dB","titlePadding":-12}},
    "strokeDash":{"field":"s","type":"nominal","scale":{"domain":["|h₁⁽ᵏ⁾|²","|yₐᵥ|²"],"range":[[1.5,3],[1,0]]},"legend":{"title":null,"legendX":200,"legendY":3,"rowPadding":13}}
   }}
 ],"spacing":62,"bounds":"flush","resolve":{"scale":{"strokeDash":"independent"},"legend":{"strokeDash":"independent"}}},
 {"hconcat":[
  {"width":290,"height":124,"data":{"name":"f"},"title":{"text":"(f) reflectivity error","offset":6},
   "mark":{"type":"line","clip":true},
   "encoding":{
    "x":{"field":"x","type":"quantitative","scale":{"domain":[150,350],"nice":false,"zero":false},"axis":{"values":[150,200,250,300,350],"title":null,"labelPadding":7}},
    "y":{"field":"y","type":"quantitative","scale":{"domain":[-6,6],"nice":false},"axis":{"values":[-6,-4,-2,0,2,4,6],"title":"dB","titlePadding":4}},
    "strokeDash":{"field":"s","type":"nominal","scale":{"domain":["reflectivity error","1 dB bound"],"range":[[1,0],[1.5,3]]},"legend":{"title":null,"legendX":2,"legendY":79,"rowPadding":4}},
    "detail":{"field":"g"}
   }},
  {"width":290,"height":124,"data":{"name":"g"},"title":{"text":"(g) velocity error","offset":6},
   "mark":{"type":"line","clip":true},
   "encoding":{
    "x":{"field":"x","type":"quantitative","scale":{"domain":[150,350],"nice":false,"zero":false},"axis":{"values":[150,200,250,300,350],"title":null,"labelPadding":7}},
    "y":{"field":"y","type":"quantitative","scale":{"domain":[-5,5],"nice":false},"axis":{"values":[-5,0,5],"title":"m/s","titlePadding":4}},
    "strokeDash":{"field":"s","type":"nominal","scale":{"domain":["velocity error","1 m/s bound"],"range":[[1,0],[1.5,3]]},"legend":{"title":null,"legendX":162,"legendY":80,"rowPadding":4}},
    "detail":{"field":"g"}
   }}
 ],"spacing":62,"bounds":"flush","resolve":{"scale":{"strokeDash":"independent"},"legend":{"strokeDash":"independent"}}}
]
}
